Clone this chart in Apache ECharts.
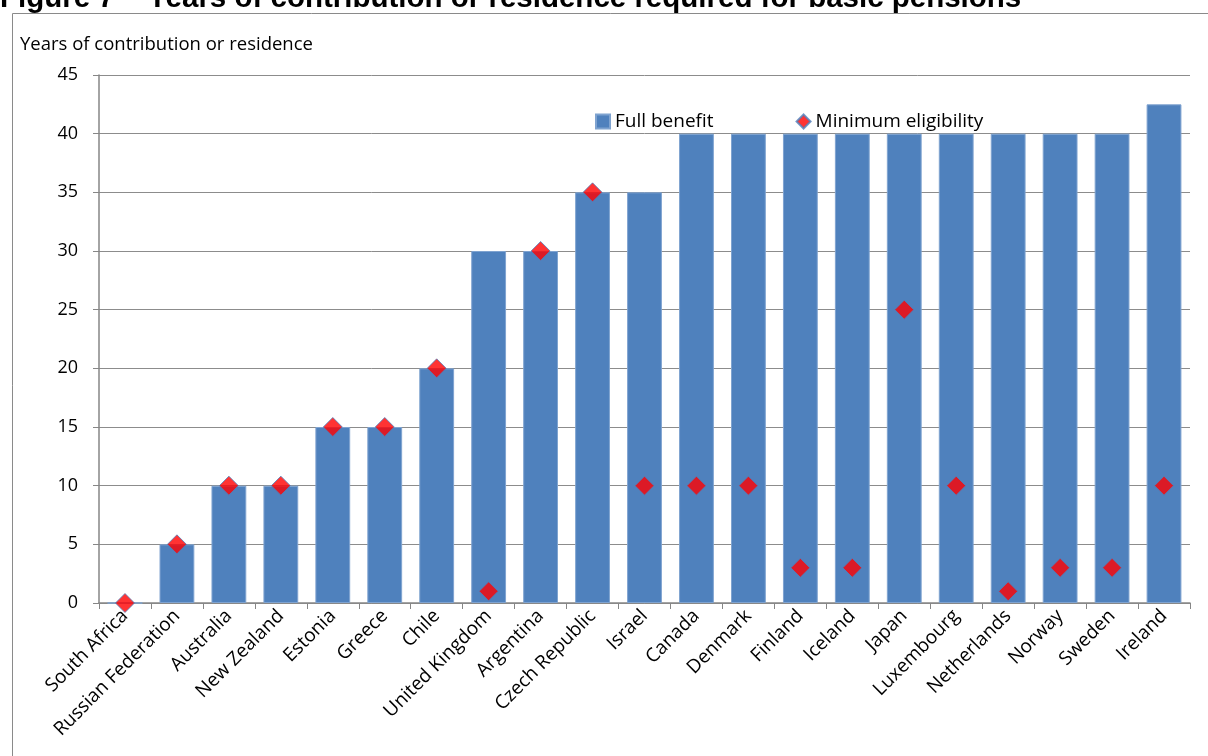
<!DOCTYPE html>
<html>
<head>
<meta charset="utf-8">
<script src="https://cdn.jsdelivr.net/npm/echarts@6/dist/echarts.min.js"></script>
<style>
  html, body { margin: 0; padding: 0; background: #fff; }
  #chart { width: 1208px; height: 756px; }
</style>
</head>
<body>
<div id="chart"></div>
<script>
// Countries, ordered by years required for a full basic pension
const countries = [
  'South Africa', 'Russian Federation', 'Australia', 'New Zealand', 'Estonia',
  'Greece', 'Chile', 'United Kingdom', 'Argentina', 'Czech Republic', 'Israel',
  'Canada', 'Denmark', 'Finland', 'Iceland', 'Japan', 'Luxembourg',
  'Netherlands', 'Norway', 'Sweden', 'Ireland'
];
// Years needed for the full benefit
const fullBenefit = [0, 5, 10, 10, 15, 15, 20, 30, 30, 35, 35, 40, 40, 40, 40, 40, 40, 40, 40, 40, 42.5];
// Years needed for minimum eligibility
const minEligibility = [0, 5, 10, 10, 15, 15, 20, 1, 30, 35, 10, 10, 10, 3, 3, 25, 10, 1, 3, 3, 10];
// Value axis ticks
const yMin = 0, yMax = 45, yStep = 5;

const titleText = 'Figure 7    Years of contribution or residence required for basic pensions';
const axisName = 'Years of contribution or residence';
const labelFont = 'Open Sans, Lato, sans-serif';

const chart = echarts.init(document.getElementById('chart'), null, { renderer: 'canvas' });
chart.setOption({
  animation: false,
  backgroundColor: '#ffffff',
  graphic: [
    {
      type: 'text', left: 0, top: -16, silent: true,
      style: { text: titleText, font: 'bold 29.5px "Liberation Sans", Arial, sans-serif', fill: '#000' }
    },
    {
      type: 'rect', silent: true, z: -1,
      shape: { x: 12.5, y: 13.5, width: 1300, height: 900 },
      style: { fill: 'none', stroke: '#8a8a8a', lineWidth: 1 }
    },
    {
      type: 'text', left: 20, top: 35, silent: true,
      style: { text: axisName, font: '18.5px ' + labelFont, fill: '#000' }
    }
  ],
  legend: {
    top: 107,
    left: 590,
    itemGap: 82,
    itemWidth: 14,
    itemHeight: 14,
    textStyle: { fontSize: 19, fontFamily: labelFont, color: '#000' },
    data: [
      { name: 'Full benefit', icon: 'rect' },
      { name: 'Minimum eligibility', icon: 'diamond' }
    ]
  },
  grid: { left: 99, right: 18, top: 75, bottom: 153 },
  xAxis: {
    type: 'category',
    data: countries,
    boundaryGap: true,
    axisLine: { lineStyle: { color: '#868686', width: 1.5 } },
    axisTick: { show: true, length: 6, alignWithLabel: false, lineStyle: { color: '#868686' } },
    axisLabel: {
      interval: 0, rotate: 45, margin: 10, color: '#000',
      fontSize: 19, fontFamily: labelFont
    }
  },
  yAxis: {
    type: 'value',
    min: yMin, max: yMax, interval: yStep,
    axisLine: { show: true, lineStyle: { color: '#868686', width: 1.5 } },
    axisTick: { show: true, length: 6, lineStyle: { color: '#868686' } },
    splitLine: { lineStyle: { color: '#8c8c8c', width: 1 } },
    axisLabel: { margin: 21, color: '#000', fontSize: 18, fontFamily: labelFont }
  },
  series: [
    {
      name: 'Full benefit',
      type: 'bar',
      data: fullBenefit,
      barCategoryGap: '33%',
      itemStyle: { color: '#4F81BD', borderColor: '#7fa3d0', borderWidth: 1 }
    },
    {
      name: 'Minimum eligibility',
      type: 'scatter',
      data: minEligibility,
      symbol: 'diamond',
      symbolSize: [19, 19],
      z: 5,
      itemStyle: { color: '#FF0000', borderColor: '#4F81BD', borderWidth: 1 }
    }
  ]
});
</script>
</body>
</html>
